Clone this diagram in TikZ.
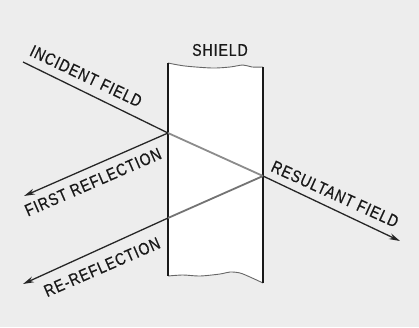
\documentclass[tikz,border=0pt]{standalone}
\usepackage{fontspec}
\setmainfont[FakeBold=0.6,FakeStretch=0.82,LetterSpace=6]{Liberation Sans}
\usetikzlibrary{arrows.meta}
\definecolor{bg}{gray}{0.93}
\tikzset{
  lbl/.style={font=\fontsize{17}{19}\selectfont, inner sep=0pt, text=black!90},
  ray/.style={draw=black!85, line width=1.3pt},
  inner/.style={draw=black!55, line width=1.8pt},
  arr/.style={ray, -{Stealth[length=11pt,width=6pt]}},
  wall/.style={draw=black!90, line width=2.8pt},
  edge/.style={draw=black!60, line width=0.9pt}
}
\begin{document}
\begin{tikzpicture}[x=1pt,y=-1pt]
\useasboundingbox (0,0) rectangle (419,327);
\fill[bg] (0,0) rectangle (419,327);
% shield body
\fill[white] plot[smooth] coordinates {(168,63) (185,66) (212,68) (230,67) (243,65) (252,67) (263,67)}
  -- (263,283) -- plot[smooth] coordinates {(262,282) (250,277) (240,273) (230,272) (220,274) (200,276) (183,275) (168,276)} -- cycle;
\draw[edge] plot[smooth] coordinates {(168,63) (185,66) (212,68) (230,67) (243,65) (252,67) (263,67)};
\draw[edge] plot[smooth] coordinates {(168,276) (183,275) (200,276) (220,274) (230,272) (240,273) (250,277) (263,283)};
\coordinate (tl) at (168,63);
\coordinate (bl) at (168,276);
\coordinate (tr) at (263,67);
\coordinate (br) at (263,283);
\draw[wall] (tl) -- (bl);
\draw[wall] (tr) -- (br);
% rays
\coordinate (inc) at (23,62);
\coordinate (A) at (168,133);
\coordinate (B) at (263,176);
\coordinate (C) at (168,218);
\coordinate (res) at (400,241);
\coordinate (fr) at (24,196);
\coordinate (rr) at (23,284);
\draw[ray] (inc) -- (A);
\draw[inner, draw=black!45] (A) -- (B);
\draw[inner] (B) -- (C);
\draw[arr] (B) -- (res);
\draw[arr] (A) -- (fr);
\draw[arr] (C) -- (rr);
% labels
\node[lbl] (tsh) at (220,50) {SHIELD};
\node[lbl, rotate=-25.5] (tinc) at (86,76) {INCIDENT FIELD};
\node[lbl, rotate=23.5] (tfr) at (93,182) {FIRST REFLECTION};
\node[lbl, rotate=23.5] (trr) at (102,267) {RE-REFLECTION};
\node[lbl, rotate=-24.5] (tres) at (335,194) {RESULTANT FIELD};
\end{tikzpicture}
\end{document}
